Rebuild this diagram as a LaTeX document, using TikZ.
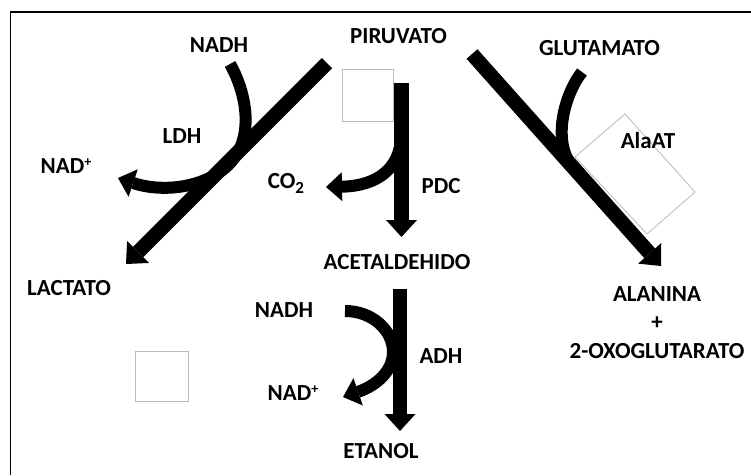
\documentclass[tikz,border=0pt]{standalone}
\usepackage{fontspec}
\setmainfont{Carlito}
\usetikzlibrary{arrows.meta}
\newcommand{\mysub}[1]{\raisebox{-5.5pt}{\fontsize{17}{17}\selectfont #1}}
\newcommand{\mysup}[1]{\raisebox{7pt}{\fontsize{14}{14}\selectfont #1}}
\begin{document}
\begin{tikzpicture}[x=1pt,y=-1pt,
  lbl/.style={font=\bfseries\fontsize{23}{27}\selectfont, anchor=base, inner sep=0pt},
  mainarrow/.style={line width=14.5pt, -{Triangle[width=31pt,length=17pt,line width=0pt]}},
  curvearrow/.style={line width=12pt, -{Triangle[width=29pt,length=16pt,line width=0pt]}},
  curveline/.style={line width=12pt},
  graybox/.style={draw=gray!55, line width=0.8pt},
  frameline/.style={line width=1.5pt}]
\useasboundingbox (0,0) rectangle (751,475);
% frame
\coordinate (fA) at (10.5,475);
\coordinate (fB) at (10.5,12);
\coordinate (fC) at (751,12);
\draw[frameline] (fA) -- (fB) -- (fC);
% gray boxes
\draw[graybox] (342,69) rectangle (393,121);
\draw[graybox] (135,351) rectangle (188,401);
\draw[graybox] (625,114) -- (695,192) -- (647,234) -- (575,157) -- cycle;
% labels
\node[lbl] (nadh1) at (219,52) {NADH};
\node[lbl] (piruvato) at (398.5,43) {PIRUVATO};
\node[lbl] (glutamato) at (599.5,55) {GLUTAMATO};
\node[lbl] (ldh) at (182,143) {LDH};
\node[lbl] (nad1) at (66,173) {NAD\mysup{+}};
\node[lbl] (co2) at (286,188) {CO\mysub{2}};
\node[lbl] (pdc) at (441,193) {PDC};
\node[lbl] (alaat) at (648,148) {AlaAT};
\node[lbl] (acet) at (397,269) {ACETALDEHIDO};
\node[lbl] (lactato) at (69,295) {LACTATO};
\node[lbl] (nadh2) at (284,317) {NADH};
\node[lbl] (nad2) at (293,400) {NAD\mysup{+}};
\node[lbl] (etanol) at (381,458) {ETANOL};
\node[lbl] (adh) at (441,363) {ADH};
\node[lbl] (alanina) at (657,301) {ALANINA};
\node[lbl] (plus) at (657,329.5) {+};
\node[lbl] (oxo) at (657,358) {2-OXOGLUTARATO};
% endpoints
\coordinate (ldhS) at (327,63);
\coordinate (ldhE) at (126,264);
\coordinate (pdcS) at (401.5,83);
\coordinate (pdcE) at (401.5,237);
\coordinate (adhS) at (400,289);
\coordinate (adhE) at (400,431);
\coordinate (alaS) at (472,54);
\coordinate (alaE) at (661,266);
\coordinate (c1S) at (230,64);
\coordinate (c1M) at (225,168);
\coordinate (c1E) at (118,178);
\coordinate (c2S) at (401,135);
\coordinate (c2E) at (326,187);
\coordinate (c3S) at (582,72);
\coordinate (c3E) at (569,162);
\coordinate (c4S) at (345,311);
\coordinate (c4M) at (393,352);
\coordinate (c4E) at (343,397);
% curves
\draw[curvearrow] (c1S) .. controls (245,90) and (258,140) .. (c1M)
  .. controls (200,189) and (160,192) .. (c1E);
\draw[curvearrow] (c2S) .. controls (401,170) and (375,186) .. (c2E);
\draw[curveline] (c3S) .. controls (566,92) and (553,135) .. (c3E);
\draw[curvearrow] (c4S) .. controls (372,311) and (393,330) .. (c4M)
  .. controls (393,372) and (375,386) .. (c4E);
% main arrows
\draw[mainarrow] (ldhS) -- (ldhE);
\draw[mainarrow] (pdcS) -- (pdcE);
\draw[mainarrow] (adhS) -- (adhE);
\draw[mainarrow] (alaS) -- (alaE);
\end{tikzpicture}
\end{document}
